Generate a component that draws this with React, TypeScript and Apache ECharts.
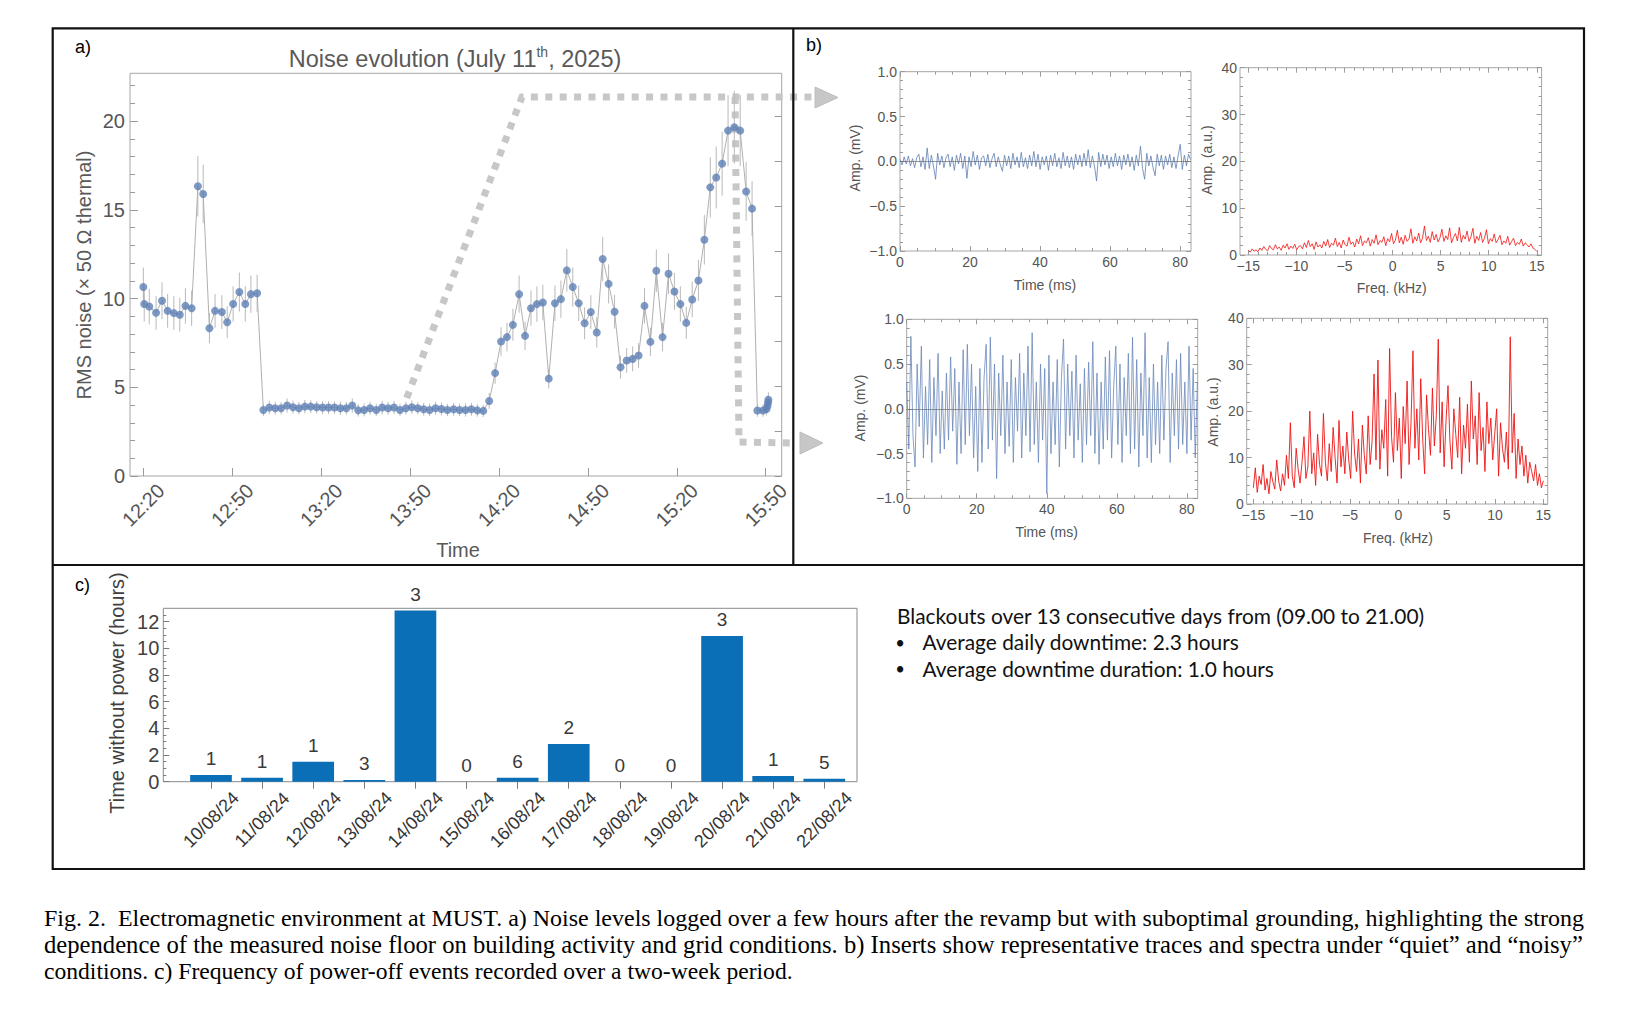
import React, { useEffect, useRef } from "react";
import * as echarts from "echarts";

// ---------------- Panel a: noise evolution ----------------
const noiseTimes = [
  20.0, 20.3, 22.0, 24.3, 26.3, 28.2, 30.3, 32.3, 34.2, 36.3, 38.4, 40.2, 42.3, 44.2, 46.5, 48.3, 50.3, 52.4, 54.4, 56.3, 58.4,
  60.5, 62.5, 64.5, 66.5, 68.5, 70.5, 72.5, 74.5, 76.5, 78.5, 80.5, 82.5, 84.5, 86.5, 88.5, 90.5, 92.5, 94.5, 96.5,
  98.6, 100.6, 102.6, 104.6, 106.6, 108.6, 110.6, 112.6, 114.6, 116.6, 118.6, 120.6, 122.6, 124.7, 126.7, 128.7, 130.7, 132.7, 134.7,
  136.7, 138.7, 140.7, 142.7, 144.7, 146.8, 148.8, 150.8, 152.8, 154.8, 156.8, 158.9, 160.9, 162.9, 164.9, 166.9, 168.9, 171.0,
  173.0, 175.0, 177.0, 179.0, 181.0, 183.1, 185.1, 187.1, 189.1, 191.1, 193.1, 195.2, 197.2, 199.2, 201.2, 203.2, 205.2, 207.3,
  209.3, 211.3, 213.3, 215.3, 217.3, 219.4, 221.4, 223.4, 225.4,
  227.2, 229.1, 230.3, 230.6, 230.8, 230.9,
];
const noiseValues = [
  10.65, 9.7, 9.55, 9.2, 9.88, 9.31, 9.18, 9.09, 9.59, 9.46, 16.33, 15.9, 8.33, 9.31, 9.24, 8.67, 9.7, 10.37, 9.7, 10.25, 10.3,
  3.72, 3.86, 3.82, 3.82, 3.97, 3.88, 3.82, 3.91, 3.91, 3.88, 3.86, 3.86, 3.86, 3.82, 3.82, 3.97, 3.7, 3.72, 3.82,
  3.72, 3.86, 3.82, 3.86, 3.72, 3.82, 3.88, 3.82, 3.76, 3.72, 3.82, 3.78, 3.72, 3.76, 3.72, 3.72, 3.76, 3.7, 3.67,
  4.23, 5.8, 7.58, 7.83, 8.52, 10.25, 7.9, 9.46, 9.69, 9.78, 5.49, 9.74, 9.97, 11.59, 10.65, 9.74, 8.61, 9.24,
  8.09, 12.23, 10.83, 9.26, 6.13, 6.51, 6.6, 6.79, 9.59, 7.56, 11.57, 7.83, 11.4, 10.4, 9.69, 8.63, 9.95, 11.02,
  13.32, 16.27, 16.83, 17.61, 19.47, 19.66, 19.47, 16.04, 15.07,
  3.69, 3.69, 3.78, 3.95, 4.15, 4.3,
];
const noiseErrors = [
  1.1, 1.0, 1.0, 0.95, 1.05, 0.95, 0.95, 0.95, 1.0, 1.0, 1.7, 1.65, 0.85, 0.95, 0.95, 0.9, 1.0, 1.1, 1.0, 1.05, 1.05,
  0.35, 0.38, 0.36, 0.35, 0.4, 0.37, 0.35, 0.38, 0.36, 0.35, 0.37, 0.36, 0.35, 0.38, 0.36, 0.4, 0.35, 0.36, 0.37,
  0.35, 0.38, 0.36, 0.37, 0.35, 0.36, 0.38, 0.35, 0.36, 0.35, 0.37, 0.36, 0.35, 0.36, 0.35, 0.37, 0.36, 0.35, 0.34,
  0.45, 0.6, 0.8, 0.8, 0.9, 1.05, 0.8, 1.0, 1.0, 1.0, 0.55, 1.0, 1.05, 1.2, 1.1, 1.0, 0.9, 0.95,
  0.85, 1.25, 1.1, 0.95, 0.65, 0.7, 0.7, 0.7, 1.0, 0.8, 1.2, 0.8, 1.15, 1.05, 1.0, 0.9, 1.0, 1.15,
  1.4, 1.7, 1.75, 1.8, 2.0, 2.05, 2.0, 1.65, 1.55,
  0.35, 0.35, 0.36, 0.38, 0.4, 0.42,
];
const timeTickMinutes = [20, 50, 80, 110, 140, 170, 200, 230];
const timeTickLabels = ["12:20", "12:50", "13:20", "13:50", "14:20", "14:50", "15:20", "15:50"];
const rmsTicks = [0, 5, 10, 15, 20];

// ---------------- Panel b: traces and spectra ----------------
const traceDurationMs = 83;
const quietTrace = [
  0.02, -0.04, 0.05, -0.03, 0.06, -0.05, 0.03, -0.07, 0.04, 0.08,
  -0.06, 0.05, -0.09, 0.15, -0.08, 0.07, -0.05, -0.2, 0.09, -0.04,
  0.06, -0.07, 0.04, 0.08, -0.06, 0.05, -0.1, 0.07, -0.03, 0.09,
  -0.08, 0.06, -0.19, 0.05, -0.06, 0.11, -0.04, 0.07, -0.09, 0.04,
  0.06, -0.05, 0.08, -0.07, 0.03, 0.09, -0.06, 0.05, -0.04, -0.11,
  0.07, -0.05, 0.06, -0.08, 0.09, -0.04, 0.05, -0.07, 0.1, -0.06,
  0.04, -0.08, 0.07, -0.05, 0.11, -0.06, 0.08, -0.09, 0.05, -0.04,
  0.06, -0.1, 0.07, -0.05, 0.09, -0.06, 0.04, -0.08, 0.1, -0.05,
  0.06, -0.07, 0.05, -0.09, 0.08, -0.04, 0.07, -0.06, 0.09, -0.05,
  0.13, -0.07, 0.06, -0.05, -0.22, 0.1, -0.06, 0.08, -0.04, 0.07,
  -0.08, 0.05, -0.06, 0.09, -0.05, 0.06, -0.09, 0.07, -0.04, 0.08,
  -0.06, 0.05, -0.1, 0.07, -0.05, 0.17, -0.08, -0.2, 0.09, -0.05,
  0.06, -0.07, -0.16, 0.08, -0.05, 0.07, -0.09, 0.06, -0.04, 0.08,
  -0.07, 0.05, -0.08, 0.06, 0.19, -0.09, 0.07, -0.05, 0.08, 0.02,
];
const noisyTrace = [
  0.3, -0.45, 0.81, -0.3, -0.65, 0.5, -0.2, 0.7, -0.55, 0.25,
  -0.4, 0.55, -0.6, 0.35, -0.3, 0.62, -0.5, 0.2, -0.45, 0.4,
  -0.35, 0.58, -0.25, 0.45, -0.62, 0.3, -0.5, 0.66, -0.4, 0.72,
  -0.3, 0.5, -0.55, 0.25, -0.7, 0.45, -0.6, 0.35, 0.72, -0.45,
  0.8, -0.35, 0.5, -0.78, 0.4, -0.3, 0.6, -0.5, 0.3, -0.42,
  0.55, -0.6, 0.35, -0.25, 0.62, -0.55, 0.4, -0.3, 0.7, -0.48,
  0.85, -0.4, 0.3, -0.6, 0.5, -0.35, 0.45, -0.95, 0.6, -0.5,
  0.3, -0.4, 0.55, -0.65, 0.35, 0.78, -0.45, 0.5, -0.3, 0.42,
  -0.55, 0.6, -0.35, 0.28, -0.6, 0.45, -0.4, 0.52, -0.3, 0.75,
  -0.5, 0.4, -0.62, 0.3, -0.45, 0.58, -0.35, 0.65, -0.55, 0.25,
  0.7, -0.4, 0.5, -0.6, 0.35, -0.3, 0.62, -0.5, 0.8, -0.45,
  0.55, -0.65, 0.4, -0.3, 0.85, -0.55, 0.35, -0.6, 0.5, -0.4,
  0.3, -0.5, 0.6, -0.35, 0.45, 0.75, -0.6, 0.4, -0.3, 0.55,
  -0.45, 0.62, -0.4, 0.3, -0.5, 0.7, -0.35, 0.45, -0.55, 0.3,
];
const spectrumSpanKHz = [-15, 15];
const quietSpectrum = [
  1.0, 0.6, 1.3, 0.8, 1.1, 0.7, 1.5, 1.0, 1.8, 1.2, 0.9, 2.0, 1.4, 1.1, 2.2, 1.3,
  1.7, 1.0, 2.1, 1.5, 2.4, 1.2, 1.9, 1.4, 2.3, 1.1, 1.8, 2.0, 1.3, 2.6, 1.6, 3.1,
  1.8, 2.4, 1.2, 2.8, 1.7, 2.2, 1.5, 2.9, 1.9, 3.3, 1.6, 2.5, 2.1, 3.6, 1.8, 2.7,
  1.5, 3.2, 2.2, 1.9, 3.8, 2.3, 2.8, 1.7, 3.4, 2.4, 4.1, 2.0, 3.0, 2.6, 3.7, 1.9,
  3.3, 2.5, 4.3, 2.2, 3.1, 2.7, 3.9, 2.0, 3.5, 2.8, 4.6, 2.4, 3.2, 5.3, 2.6, 3.8,
  2.3, 4.2, 2.9, 3.4, 5.6, 2.5, 3.9, 3.0, 4.7, 2.6, 3.6, 6.2, 3.1, 4.0, 2.7, 5.0,
  3.2, 4.4, 2.8, 3.7, 5.5, 2.9, 4.1, 3.3, 5.8, 2.6, 3.8, 4.6, 3.0, 5.9, 2.7, 4.2,
  3.4, 5.1, 2.9, 3.9, 5.7, 2.5, 4.0, 3.1, 4.8, 2.7, 3.6, 5.4, 2.4, 3.5, 2.9, 4.5,
  2.6, 3.3, 4.2, 2.2, 3.0, 2.5, 4.0, 2.1, 2.9, 3.6, 2.0, 2.7, 2.3, 3.4, 1.9, 2.6,
  2.2, 1.7, 2.4, 1.5, 1.2, 0.8,
];
const noisySpectrum = [
  3.5, 7.8, 2.5, 6.0, 4.2, 8.5, 3.0, 5.5, 2.2, 7.0, 4.8, 3.2, 9.5, 5.0, 2.8, 6.5,
  4.0, 10.5, 5.5, 17.5, 6.0, 3.5, 12.0, 7.5, 4.5, 9.0, 14.5, 5.5, 8.0, 20.0, 6.5, 11.0,
  4.0, 15.0, 8.5, 6.0, 19.5, 9.0, 5.0, 13.0, 7.0, 16.5, 10.0, 4.5, 18.0, 8.0, 12.5, 6.5,
  15.5, 9.5, 5.5, 20.0, 11.0, 7.0, 14.0, 4.5, 17.0, 10.5, 6.5, 19.0, 8.5, 13.5, 28.0, 9.5,
  31.0, 7.5, 16.0, 12.0, 22.5, 6.0, 33.5, 14.5, 9.0, 24.0, 11.5, 18.5, 5.5, 21.0, 13.0, 26.5,
  8.5, 17.5, 33.0, 12.0, 20.5, 9.5, 27.0, 14.0, 6.5, 23.5, 16.0, 10.5, 25.0, 12.5, 19.0, 35.5,
  11.0, 22.0, 8.0, 18.0, 25.5, 13.5, 7.5, 20.5, 15.0, 10.0, 23.0, 6.5, 17.0, 12.0, 21.5, 9.0,
  26.5, 14.0, 19.0, 8.5, 24.0, 11.5, 16.5, 7.0, 22.0, 13.0, 18.5, 9.5, 15.0, 20.5, 6.0, 17.5,
  12.0, 9.0, 15.5, 7.5, 36.0, 11.0, 19.5, 5.5, 14.0, 8.5, 12.5, 6.0, 10.5, 4.5, 9.0, 7.0,
  5.0, 8.5, 4.0, 6.5, 3.5, 5.0,
];
const timeMsTicks = [0, 20, 40, 60, 80];
const timeMsMinor = [5, 10, 15, 25, 30, 35, 45, 50, 55, 65, 70, 75];
const ampTicks = [-1, -0.5, 0, 0.5, 1];
const ampMinor = [-0.9, -0.8, -0.7, -0.6, -0.4, -0.3, -0.2, -0.1, 0.1, 0.2, 0.3, 0.4, 0.6, 0.7, 0.8, 0.9];
const freqTicks = [-15, -10, -5, 0, 5, 10, 15];
const freqMinor = [-14, -13, -12, -11, -9, -8, -7, -6, -4, -3, -2, -1, 1, 2, 3, 4, 6, 7, 8, 9, 11, 12, 13, 14];
const specTicks = [0, 10, 20, 30, 40];
const specMinor = [2, 4, 6, 8, 12, 14, 16, 18, 22, 24, 26, 28, 32, 34, 36, 38];

// ---------------- Panel c: blackouts ----------------
const days = ["10/08/24", "11/08/24", "12/08/24", "13/08/24", "14/08/24", "15/08/24", "16/08/24",
  "17/08/24", "18/08/24", "19/08/24", "20/08/24", "21/08/24", "22/08/24"];
const downtimeHours = [0.5, 0.3, 1.5, 0.12, 12.83, 0, 0.3, 2.83, 0, 0, 10.93, 0.43, 0.23];
const blackoutCounts = [1, 1, 1, 3, 3, 0, 6, 2, 0, 0, 3, 1, 5];
const hourTicks = [0, 2, 4, 6, 8, 10, 12];
const hourMinor = [0.5, 1, 1.5, 2.5, 3, 3.5, 4.5, 5, 5.5, 6.5, 7, 7.5, 8.5, 9, 9.5, 10.5, 11, 11.5, 12.5];

const captionLines = [
  "Fig. 2.  Electromagnetic environment at MUST. a) Noise levels logged over a few hours after the revamp but with suboptimal grounding, highlighting the strong",
  "dependence of the measured noise floor on building activity and grid conditions. b) Inserts show representative traces and spectra under \u201cquiet\u201d and \u201cnoisy\u201d",
  "conditions. c) Frequency of power-off events recorded over a two-week period.",
];
const summaryTitle = "Blackouts over 13 consecutive days from (09.00 to 21.00)";
const summaryBullets = ["Average daily downtime: 2.3 hours", "Average downtime duration: 1.0 hours"];

const SANS = "Liberation Sans";
const MINUS = "\u2212";

function measure(text: string, font: string): number {
  const ctx = document.createElement("canvas").getContext("2d");
  if (!ctx) return text.length * 50;
  ctx.font = font;
  return ctx.measureText(text).width;
}
function fitSize(text: string, family: string, target: number): number {
  const w = measure(text, `100px "${family}"`);
  return (100 * target) / w;
}

function buildOption() {
  const xAxes: any[] = [];
  const yAxes: any[] = [];

  function axis(dim: "x" | "y", gridIndex: number, position: string, min: number, max: number,
    ticks: number[], len: number, inside: boolean, color: string, label?: any) {
    const ax: any = {
      type: "value", gridIndex, position, min, max,
      axisLine: { show: false, onZero: false },
      splitLine: { show: false },
      minorTick: { show: false },
      axisTick: { show: true, inside, length: len, customValues: ticks, lineStyle: { color, width: 1 } },
      axisLabel: label ? { show: true, customValues: label.values, ...label.style } : { show: false },
      axisPointer: { show: false },
      silent: true,
    };
    const arr = dim === "x" ? xAxes : yAxes;
    arr.push(ax);
    return arr.length - 1;
  }

  const grids = [
    { left: 130, top: 73.3, width: 651.7, height: 402.7, borderColor: "#a6a6a6" },
    { left: 900, top: 71.7, width: 291, height: 179.3, borderColor: "#a6a6a6" },
    { left: 1240, top: 67.7, width: 301.6, height: 187.3, borderColor: "#a6a6a6" },
    { left: 906.7, top: 319.3, width: 291, height: 179, borderColor: "#a6a6a6" },
    { left: 1246.7, top: 318.3, width: 301, height: 185.7, borderColor: "#a6a6a6" },
    { left: 163.3, top: 608.3, width: 693.7, height: 173.4, borderColor: "#8a8a8a" },
  ].map((g) => ({ ...g, show: true, borderWidth: 1, backgroundColor: "transparent", containLabel: false }));

  const tickGray = "#9a9a9a";
  const labGray = "#555555";

  // Panel a axes
  const ax0 = axis("x", 0, "bottom", 15.5, 235.4, timeTickMinutes, 8, true, tickGray, {
    values: timeTickMinutes,
    style: {
      rotate: 45, align: "center", verticalAlign: "middle", margin: 29,
      fontSize: 20, color: labGray, fontFamily: SANS,
      formatter: (v: number) => timeTickLabels[timeTickMinutes.indexOf(v)],
    },
  });
  const ay0 = axis("y", 0, "left", 0, 22.7, rmsTicks, 8, true, tickGray, {
    values: rmsTicks,
    style: { margin: 5, fontSize: 20, color: labGray, fontFamily: SANS },
  });
  const rmsMinor: number[] = [];
  for (let v = 1; v <= 22; v++) if (v % 5 !== 0) rmsMinor.push(v);
  axis("y", 0, "left", 0, 22.7, rmsMinor, 5, true, tickGray);
  axis("y", 0, "right", 0, 8.95, [0, 1, 2, 3, 4, 5, 6, 7, 8], 7, true, tickGray);

  // Mathematica style framed panels
  function mathFrame(g: number, xmin: number, xmax: number, xt: number[], xm: number[], xfmt: (v: number) => string,
    ymin: number, ymax: number, yt: number[], ym: number[], yfmt: (v: number) => string) {
    const lab = { fontSize: 14, color: labGray, fontFamily: SANS };
    const xi = axis("x", g, "bottom", xmin, xmax, xt, 5, true, tickGray, { values: xt, style: { ...lab, margin: 4, formatter: xfmt } });
    axis("x", g, "bottom", xmin, xmax, xm, 3, true, tickGray);
    axis("x", g, "top", xmin, xmax, xt, 5, true, tickGray);
    axis("x", g, "top", xmin, xmax, xm, 3, true, tickGray);
    const yi = axis("y", g, "left", ymin, ymax, yt, 5, true, tickGray, { values: yt, style: { ...lab, margin: 3, formatter: yfmt } });
    axis("y", g, "left", ymin, ymax, ym, 3, true, tickGray);
    axis("y", g, "right", ymin, ymax, yt, 5, true, tickGray);
    axis("y", g, "right", ymin, ymax, ym, 3, true, tickGray);
    return { xi, yi };
  }
  const ampFmt = (v: number) => (v < 0 ? MINUS : "") + Math.abs(v).toFixed(1);
  const intFmt = (v: number) => (v < 0 ? MINUS : "") + String(Math.abs(v));
  const p1 = mathFrame(1, 0, 83.1, timeMsTicks, timeMsMinor, intFmt, -1, 1, ampTicks, ampMinor, ampFmt);
  const p2 = mathFrame(2, -15.86, 15.5, freqTicks, freqMinor, intFmt, 0, 40, specTicks, specMinor, intFmt);
  const p3 = mathFrame(3, 0, 83.1, timeMsTicks, timeMsMinor, intFmt, -1, 1, ampTicks, ampMinor, ampFmt);
  const p4 = mathFrame(4, -15.69, 15.45, freqTicks, freqMinor, intFmt, 0, 40, specTicks, specMinor, intFmt);

  // Panel c axes
  const dayIdx = days.map((_, i) => i);
  const axc = axis("x", 5, "bottom", -0.933, 12.64, dayIdx, 7, false, "#7a7a7a", {
    values: dayIdx,
    style: {
      rotate: 45, align: "center", verticalAlign: "middle", margin: 38,
      fontSize: 18, color: "#333333", fontFamily: SANS,
      formatter: (v: number) => days[Math.round(v)],
    },
  });
  const ayc = axis("y", 5, "left", 0, 13, hourTicks, 6, true, "#7a7a7a", {
    values: hourTicks,
    style: { margin: 4, fontSize: 20, color: "#404040", fontFamily: SANS },
  });
  axis("y", 5, "left", 0, 13, hourMinor, 3, true, "#7a7a7a");

  const tStep = traceDurationMs / (quietTrace.length - 1);
  const fStep = (spectrumSpanKHz[1] - spectrumSpanKHz[0]) / (quietSpectrum.length - 1);
  const zeroLine = {
    silent: true, symbol: "none", label: { show: false },
    lineStyle: { color: "#6d6d6d", width: 0.7, type: "solid" },
    data: [{ yAxis: 0 }],
  };

  const series: any[] = [
    {
      type: "custom", xAxisIndex: ax0, yAxisIndex: ay0, silent: true, z: 2,
      data: noiseTimes.map((t, i) => [t, noiseValues[i] - noiseErrors[i], noiseValues[i] + noiseErrors[i]]),
      encode: { x: 0, y: [1, 2] },
      renderItem: (_p: any, api: any) => {
        const lo = api.coord([api.value(0), api.value(1)]);
        const hi = api.coord([api.value(0), api.value(2)]);
        return { type: "line", shape: { x1: lo[0], y1: lo[1], x2: hi[0], y2: hi[1] }, style: { stroke: "#b9b9b9", lineWidth: 1 } };
      },
    },
    {
      type: "line", xAxisIndex: ax0, yAxisIndex: ay0, silent: true, z: 3,
      data: noiseTimes.map((t, i) => [t, noiseValues[i]]),
      symbol: "none", lineStyle: { color: "#b0b0b0", width: 1 },
    },
    {
      type: "scatter", xAxisIndex: ax0, yAxisIndex: ay0, silent: true, z: 4,
      data: noiseTimes.map((t, i) => [t, noiseValues[i]]),
      symbolSize: 8, itemStyle: { color: "#5E81B5" },
    },
    {
      type: "line", xAxisIndex: p1.xi, yAxisIndex: p1.yi, silent: true, z: 3,
      data: quietTrace.map((v, i) => [i * tStep, v]),
      symbol: "none", lineStyle: { color: "#5f7fb3", width: 0.8 }, markLine: zeroLine,
    },
    {
      type: "line", xAxisIndex: p3.xi, yAxisIndex: p3.yi, silent: true, z: 3,
      data: noisyTrace.map((v, i) => [i * tStep, v]),
      symbol: "none", lineStyle: { color: "#6a88ba", width: 0.8 }, markLine: zeroLine,
    },
    {
      type: "line", xAxisIndex: p2.xi, yAxisIndex: p2.yi, silent: true, z: 3,
      data: quietSpectrum.map((v, i) => [spectrumSpanKHz[0] + i * fStep, v]),
      symbol: "none", lineStyle: { color: "#f01010", width: 0.8 },
    },
    {
      type: "line", xAxisIndex: p4.xi, yAxisIndex: p4.yi, silent: true, z: 3,
      data: noisySpectrum.map((v, i) => [spectrumSpanKHz[0] + i * fStep, v]),
      symbol: "none", lineStyle: { color: "#ee1414", width: 0.9 },
    },
    {
      type: "bar", xAxisIndex: axc, yAxisIndex: ayc, silent: true, z: 3,
      data: downtimeHours.map((v, i) => [i, v]),
      barWidth: 41.7, itemStyle: { color: "#0a6fb6" },
      label: {
        show: true, position: "top", distance: 7, fontSize: 19, color: "#3a3a3a", fontFamily: SANS,
        formatter: (p: any) => String(blackoutCounts[p.dataIndex]),
      },
    },
  ];

  // ---------- graphics ----------
  const txt = (x: number, y: number, text: string, size: number, opts: any = {}) => ({
    type: "text", x, y, rotation: opts.rotation || 0, z: 10, silent: true,
    style: {
      text, fontSize: size, fontFamily: opts.family || SANS, fill: opts.color || "#000",
      align: opts.align || "left", verticalAlign: opts.va || "middle",
      textAlign: opts.align || "left", textVerticalAlign: opts.va || "middle",
    },
  });

  const dots = { stroke: "#c7c7c7", lineWidth: 7, lineDash: [7, 7.4], fill: null, lineCap: "butt", lineJoin: "miter" };
  const serif = "Liberation Serif";
  const capSize3 = fitSize(captionLines[2], serif, 749);
  const capSizes = [
    fitSize(captionLines[0], serif, 1540),
    fitSize(captionLines[1], serif, 1540),
    capSize3,
  ];
  const capY = [918.3, 944.5, 970.7];

  const sumFont = "Lato";
  const sumSize = fitSize(summaryTitle, sumFont, 528);

  const graphic: any[] = [
    // outer frame
    { type: "rect", z: 10, silent: true, shape: { x: 52.7, y: 28.3, width: 1531.3, height: 840.7 }, style: { fill: "none", stroke: "#111", lineWidth: 2.2 } },
    { type: "line", z: 10, silent: true, shape: { x1: 793.3, y1: 28.3, x2: 793.3, y2: 565 }, style: { stroke: "#111", lineWidth: 2.2 } },
    { type: "line", z: 10, silent: true, shape: { x1: 52.7, y1: 565, x2: 1584, y2: 565 }, style: { stroke: "#111", lineWidth: 2.2 } },
    txt(75, 47, "a)", 18),
    txt(806, 45, "b)", 18),
    txt(75, 585, "c)", 18),
    // panel a title and labels
    {
      type: "text", x: 455, y: 59, z: 10, silent: true,
      style: {
        text: "{m|Noise evolution (July 11}{s|th}{m|, 2025)}",
        align: "center", verticalAlign: "middle", textAlign: "center", textVerticalAlign: "middle",
        rich: {
          m: { fontSize: 23.5, fontFamily: SANS, fill: "#595959", lineHeight: 28 },
          s: { fontSize: 14, fontFamily: SANS, fill: "#595959", lineHeight: 15, verticalAlign: "top" },
        },
      },
    },
    txt(84, 275, "RMS noise (\u00d7 50 \u03a9 thermal)", 20, { color: "#595959", align: "center", rotation: Math.PI / 2 }),
    txt(458, 550, "Time", 20, { color: "#595959", align: "center" }),
    // dotted arrows
    { type: "polyline", z: 1, silent: true, shape: { points: [[406.7, 398], [522, 97], [812, 97]] }, style: dots },
    { type: "polygon", z: 1, silent: true, shape: { points: [[815, 87], [838, 97.5], [815, 108]] }, style: { fill: "#c7c7c7", stroke: "#bdbdbd", lineWidth: 1 } },
    { type: "polyline", z: 1, silent: true, shape: { points: [[735, 97], [739, 442], [792, 443]] }, style: dots },
    { type: "polygon", z: 1, silent: true, shape: { points: [[800, 432], [823, 443], [800, 454]] }, style: { fill: "#c7c7c7", stroke: "#bdbdbd", lineWidth: 1 } },
    // panel b axis names
    txt(855, 158, "Amp. (mV)", 14, { color: labGray, align: "center", rotation: Math.PI / 2 }),
    txt(1045, 285, "Time (ms)", 14, { color: labGray, align: "center" }),
    txt(1207, 160, "Amp. (a.u.)", 14, { color: labGray, align: "center", rotation: Math.PI / 2 }),
    txt(1391.7, 288, "Freq. (kHz)", 14, { color: labGray, align: "center" }),
    txt(860, 408, "Amp. (mV)", 14, { color: labGray, align: "center", rotation: Math.PI / 2 }),
    txt(1046.7, 531.7, "Time (ms)", 14, { color: labGray, align: "center" }),
    txt(1213, 412, "Amp. (a.u.)", 14, { color: labGray, align: "center", rotation: Math.PI / 2 }),
    txt(1398, 538, "Freq. (kHz)", 14, { color: labGray, align: "center" }),
    // panel c labels
    txt(117, 693, "Time without power (hours)", 20, { color: "#404040", align: "center", rotation: Math.PI / 2 }),
    txt(897, 615.6, summaryTitle, sumSize, { family: sumFont, color: "#111" }),
    txt(900, 642.5, "\u2022", sumSize * 0.8, { family: sumFont, color: "#111", align: "center" }),
    txt(922.5, 641.8, summaryBullets[0], sumSize, { family: sumFont, color: "#111" }),
    txt(900, 668.7, "\u2022", sumSize * 0.8, { family: sumFont, color: "#111", align: "center" }),
    txt(922.5, 668, summaryBullets[1], sumSize, { family: sumFont, color: "#111" }),
  ];
  captionLines.forEach((line, i) => {
    graphic.push(txt(44, capY[i], line, capSizes[i], { family: serif, color: "#000" }));
  });

  return {
    animation: false,
    backgroundColor: "#ffffff",
    textStyle: { fontFamily: SANS },
    grid: grids,
    xAxis: xAxes,
    yAxis: yAxes,
    series,
    graphic,
  };
}

export default function App() {
  const ref = useRef<HTMLDivElement>(null);
  useEffect(() => {
    if (!ref.current) return;
    const chart = echarts.init(ref.current, undefined, { renderer: "svg", width: 1643, height: 1018 });
    chart.setOption(buildOption() as any);
    return () => chart.dispose();
  }, []);
  return (
    <div
      ref={ref}
      style={{ position: "absolute", left: 0, top: 0, width: 1643, height: 1018, background: "#ffffff" }}
    />
  );
}
